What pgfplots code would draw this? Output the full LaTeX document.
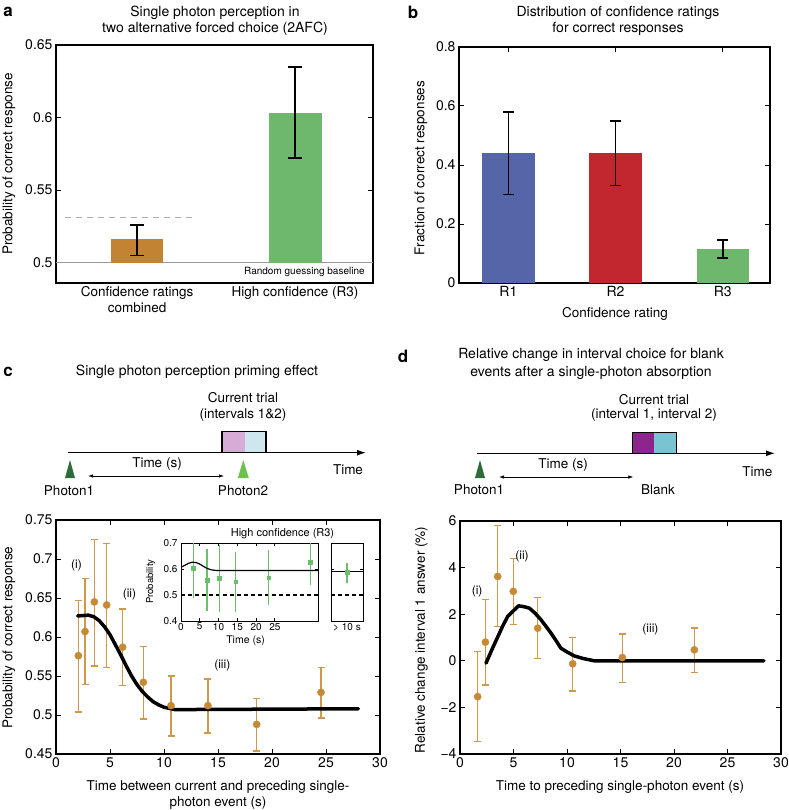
\documentclass[border=0pt]{standalone}
\usepackage{pgfplots}
\pgfplotsset{compat=1.18}
\usepackage{fontspec}
\setmainfont{TeX Gyre Heros}
\usetikzlibrary{arrows.meta}

\definecolor{barbrown}{RGB}{194,132,50}
\definecolor{bargreen}{RGB}{109,184,109}
\definecolor{barblue}{RGB}{85,102,168}
\definecolor{barred}{RGB}{193,39,45}
\definecolor{errbrown}{RGB}{208,152,74}
\definecolor{dotbrown}{RGB}{198,138,52}
\definecolor{insetgreen}{RGB}{108,190,108}
\definecolor{pinkint}{RGB}{214,172,214}
\definecolor{blueint}{RGB}{206,230,238}
\definecolor{purpint}{RGB}{140,38,140}
\definecolor{cyanint}{RGB}{122,196,210}
\definecolor{darktri}{RGB}{46,107,58}
\definecolor{lighttri}{RGB}{110,192,80}

\newcommand{\fs}[2]{\fontsize{#1}{#2}\selectfont}

\pgfplotsset{
  panel/.style={scale only axis, anchor=south west,
    axis line style={line width=1.2pt},
    tick align=inside, major tick length=5pt,
    tick style={black, line width=1pt},
    tick label style={font=\fs{14}{16}},
    /pgf/number format/assume math mode=true},
  inset/.style={scale only axis, anchor=south west,
    axis line style={line width=1pt},
    tick align=inside, major tick length=3pt,
    tick style={black, line width=0.7pt},
    tick label style={font=\fs{10}{12}},
    xticklabel style={yshift=1.5pt},
    /pgf/number format/assume math mode=true},
  ebar/.style={draw=none, no markers, error bars/.cd, y dir=both, y explicit,
    error bar style={line width=1.6pt, draw=black},
    error mark options={rotate=90, draw=black, line width=1.6pt, mark size=#1}},
  cbar/.style={error bars/.cd, y dir=both, y explicit,
    error bar style={line width=1.4pt, errbrown},
    error mark options={rotate=90, errbrown, line width=1.4pt, mark size=3.5pt}},
}

\begin{document}
\begin{tikzpicture}
\path[use as bounding box] (0pt,0pt) rectangle (788pt,-810pt);

% ---------------- panel a
\begin{axis}[panel, at={(56pt,-283pt)}, width=317pt, height=238pt,
  xmin=-0.513, xmax=1.494, ymin=0.486, ymax=0.65,
  ytick={0.5,0.55,0.6,0.65}, xtick={0,1},
  xticklabels={{Confidence ratings\\combined},{High confidence (R3)}},
  xticklabel style={align=center, font=\fs{13.5}{16}},
  x tick style={draw=none}]
\addplot[gray!80, line width=0.8pt] coordinates {(-0.513,0.5) (1.494,0.5)};
\addplot[fill=barbrown, draw=none] coordinates {(-0.165,0.5) (0.164,0.5) (0.164,0.516) (-0.165,0.516)} -- cycle;
\addplot[fill=bargreen, draw=none] coordinates {(0.835,0.5) (1.170,0.5) (1.170,0.603) (0.835,0.603)} -- cycle;
\addplot[gray!65, line width=1.3pt, dash pattern=on 6pt off 5pt] coordinates {(-0.456,0.531) (0.379,0.531)};
\addplot[ebar=7pt] coordinates {
  (0,0.516) += (0,0.010) -= (0,0.011)
  (1,0.603) += (0,0.032) -= (0,0.031)};
\node[font=\fs{10}{12}] at (axis cs:1.06,0.4935) {Random guessing baseline};
\end{axis}

% ---------------- panel b
\begin{axis}[panel, at={(459pt,-283pt)}, width=311pt, height=236pt,
  xmin=0.54, xmax=3.44, ymin=0, ymax=0.8,
  xtick={1,2,3}, xticklabels={R1,R2,R3},
  ytick={0,0.2,0.4,0.6,0.8}]
\addplot[ybar, bar width=0.49, bar shift=0pt, fill=barblue, draw=none] coordinates {(1,0.44)};
\addplot[ybar, bar width=0.49, bar shift=0pt, fill=barred, draw=none] coordinates {(2,0.44)};
\addplot[ybar, bar width=0.49, bar shift=0pt, fill=bargreen, draw=none] coordinates {(3,0.115)};
\addplot[ebar=5.5pt] coordinates {
  (1,0.44) += (0,0.14) -= (0,0.14)
  (2,0.44) += (0,0.11) -= (0,0.11)
  (3,0.115) += (0,0.03) -= (0,0.03)};
\end{axis}

% ---------------- panel c
\begin{axis}[panel, at={(56pt,-754pt)}, width=324pt, height=234pt,
  xmin=0, xmax=30, ymin=0.45, ymax=0.75,
  xtick={0,5,10,15,20,25,30}, ytick={0.45,0.5,0.55,0.6,0.65,0.7,0.75}]
\addplot[only marks, mark=*, mark size=3.6pt, color=dotbrown, cbar] coordinates {
  (2.07,0.576) += (0,0.071) -= (0,0.072)
  (2.69,0.607) += (0,0.068) -= (0,0.068)
  (3.55,0.645) += (0,0.080) -= (0,0.082)
  (4.69,0.641) += (0,0.079) -= (0,0.080)
  (6.17,0.587) += (0,0.049) -= (0,0.049)
  (8.09,0.542) += (0,0.046) -= (0,0.047)
  (10.65,0.512) += (0,0.038) -= (0,0.039)
  (14.07,0.512) += (0,0.034) -= (0,0.035)
  (18.58,0.488) += (0,0.033) -= (0,0.034)
  (24.54,0.529) += (0,0.032) -= (0,0.033)};
\addplot[black, line width=3.5pt, line join=round, line cap=round] coordinates {
  (2.0,0.627) (3.0,0.628) (3.5,0.626) (4.0,0.621) (4.5,0.613) (5.0,0.603)
  (5.5,0.590) (6.0,0.577) (6.5,0.563) (7.0,0.550) (7.5,0.539) (8.0,0.530)
  (8.5,0.523) (9.0,0.517) (9.5,0.513) (10.0,0.510) (11.0,0.507) (12.0,0.507)
  (28.0,0.508)};
\node[font=\fs{12}{14}] at (axis cs:1.9,0.692) {(i)};
\node[font=\fs{12}{14}] at (axis cs:6.8,0.655) {(ii)};
\node[font=\fs{12}{14}] at (axis cs:15.4,0.563) {(iii)};
\end{axis}

% inset 1
\begin{axis}[inset, at={(181pt,-621pt)}, width=137pt, height=78pt,
  xmin=0, xmax=36.5, ymin=0.4, ymax=0.7,
  xtick={0,5,10,15,20,25}, ytick={0.4,0.5,0.6,0.7}]
\addplot[black, line width=1.3pt, dash pattern=on 4pt off 3pt] coordinates {(0,0.5) (36.5,0.5)};
\addplot[only marks, mark=square*, mark size=1.8pt, color=insetgreen,
  error bars/.cd, y dir=both, y explicit,
  error bar style={line width=1.2pt, insetgreen}, error mark=none] coordinates {
  (3.3,0.603) += (0,0.11) -= (0,0.113)
  (6.9,0.558) += (0,0.119) -= (0,0.119)
  (10.2,0.564) += (0,0.128) -= (0,0.129)
  (14.6,0.551) += (0,0.114) -= (0,0.116)
  (23.4,0.567) += (0,0.105) -= (0,0.107)
  (34.4,0.626) += (0,0.09) -= (0,0.086)};
\addplot[black, line width=1.2pt, smooth] coordinates {
  (0,0.607) (1,0.614) (2,0.622) (3,0.626) (4,0.625) (5,0.619) (6,0.610)
  (7,0.602) (8,0.597) (9,0.595) (10,0.594) (12,0.594) (36.5,0.594)};
\end{axis}

% inset 2
\begin{axis}[inset, at={(331pt,-621pt)}, width=32pt, height=78pt,
  xmin=0, xmax=2, ymin=0.4, ymax=0.7,
  xtick={1}, xticklabels={> 10 s}, x tick style={draw=none},
  ytick={0.4,0.5,0.6,0.7}, yticklabels={}]
\addplot[black, line width=1.3pt, dash pattern=on 4pt off 3pt] coordinates {(0,0.5) (2,0.5)};
\addplot[only marks, mark=square*, mark size=1.8pt, color=insetgreen,
  error bars/.cd, y dir=both, y explicit,
  error bar style={line width=1.2pt, insetgreen}, error mark=none] coordinates {
  (1,0.588) += (0,0.037) -= (0,0.043)};
\addplot[black, line width=1.2pt] coordinates {(0,0.59) (2,0.59)};
\end{axis}

% ---------------- panel d
\begin{axis}[panel, at={(460pt,-754pt)}, width=321pt, height=233pt,
  xmin=0, xmax=30, ymin=-4, ymax=6,
  xtick={0,5,10,15,20,25,30}, ytick={-4,-2,0,2,4,6},
  yticklabels={−4,−2,0,2,4,6}]
\addplot[only marks, mark=*, mark size=3.6pt, color=dotbrown, cbar] coordinates {
  (1.65,-1.54) += (0,1.94) -= (0,1.93)
  (2.37,0.80) += (0,1.82) -= (0,1.84)
  (3.52,3.62) += (0,2.18) -= (0,2.15)
  (4.98,2.98) += (0,1.41) -= (0,1.41)
  (7.26,1.40) += (0,1.32) -= (0,1.29)
  (10.53,-0.13) += (0,1.14) -= (0,1.16)
  (15.17,0.14) += (0,1.01) -= (0,1.06)
  (21.9,0.47) += (0,0.94) -= (0,0.96)};
\addplot[black, line width=3.5pt, line join=round, line cap=round] coordinates {
  (2.43,-0.10) (3.0,0.50) (3.5,1.00) (4.0,1.50) (4.45,1.90) (5.0,2.15)
  (5.48,2.36) (6.0,2.32) (6.48,2.26) (7.0,2.05) (7.57,1.76) (8.0,1.50)
  (8.5,1.19) (9.0,0.85) (9.43,0.54) (10.0,0.38) (10.68,0.21) (11.5,0.10)
  (12.55,0) (28.4,0)};
\node[font=\fs{12}{14}] at (axis cs:1.6,2.97) {(i)};
\node[font=\fs{12}{14}] at (axis cs:5.8,4.48) {(ii)};
\node[font=\fs{12}{14}] at (axis cs:17.8,1.33) {(iii)};
\end{axis}

% ---------------- text and schematics
\node[font=\bfseries\fs{17}{18}] at (8pt,-12pt) {a};
\node[font=\bfseries\fs{17}{18}] at (413pt,-12pt) {b};
\node[font=\bfseries\fs{17}{18}] at (8pt,-372pt) {c};
\node[font=\bfseries\fs{17}{18}] at (403pt,-356pt) {d};

\node[font=\fs{14}{16}] at (215pt,-13pt) {Single photon perception in};
\node[font=\fs{14}{16}] at (215pt,-29pt) {two alternative forced choice (2AFC)};
\node[font=\fs{13.5}{16}, rotate=90] at (9pt,-164pt) {Probability of correct response};

\node[font=\fs{14}{16}] at (618pt,-13pt) {Distribution of confidence ratings};
\node[font=\fs{14}{16}] at (618pt,-29pt) {for correct responses};
\node[font=\fs{13.5}{16}, rotate=90] at (421pt,-168pt) {Fraction of correct responses};
\node[font=\fs{13.5}{16}] at (615pt,-314pt) {Confidence rating};

\node[font=\fs{14}{16}] at (197pt,-372pt) {Single photon perception priming effect};
\node[font=\fs{13.5}{16}] at (243pt,-398pt) {Current trial};
\node[font=\fs{13.5}{16}] at (243pt,-415pt) {(intervals 1\&2)};
\fill[pinkint] (222pt,-431.7pt) rectangle (244.7pt,-452.7pt);
\fill[blueint] (244.7pt,-431.7pt) rectangle (266pt,-452.7pt);
\draw[line width=1.2pt] (222pt,-431.7pt) rectangle (266pt,-452.7pt);
\draw[line width=1.3pt, -{Latex[length=9pt,width=6pt]}] (68pt,-452.7pt) -- (366pt,-452.7pt);
\fill[darktri] (65pt,-478pt) -- (75pt,-478pt) -- (70pt,-460pt) -- cycle;
\fill[lighttri] (237.8pt,-478pt) -- (248.8pt,-478pt) -- (243.3pt,-460pt) -- cycle;
\node[font=\fs{13.5}{16}] at (157pt,-464pt) {Time (s)};
\draw[line width=0.7pt, {Latex[length=5pt,width=3.5pt]}-{Latex[length=5pt,width=3.5pt]}] (88pt,-476pt) -- (224pt,-476pt);
\node[font=\fs{13.5}{16}] at (348pt,-470pt) {Time};
\node[font=\fs{13.5}{16}] at (69pt,-491pt) {Photon1};
\node[font=\fs{13.5}{16}] at (243pt,-491pt) {Photon2};
\node[font=\fs{11}{13}] at (282.5pt,-533.3pt) {High confidence (R3)};
\node[font=\fs{9.5}{11}, rotate=90] at (150.7pt,-581.7pt) {Probability};
\node[font=\fs{10.5}{12}] at (245.5pt,-641pt) {Time (s)};
\node[font=\fs{13.5}{16}, rotate=90] at (9pt,-637.5pt) {Probability of correct response};
\node[font=\fs{13.5}{16}] at (218pt,-786.7pt) {Time between current and preceding single-};
\node[font=\fs{13.5}{16}] at (218pt,-803pt) {photon event (s)};

\node[font=\fs{14}{16}] at (591pt,-355pt) {Relative change in interval choice for blank};
\node[font=\fs{14}{16}] at (591pt,-373pt) {events after a single-photon absorption};
\node[font=\fs{13.5}{16}] at (654pt,-400pt) {Current trial};
\node[font=\fs{13.5}{16}] at (654pt,-415pt) {(interval 1, interval 2)};
\fill[purpint] (632.3pt,-432.3pt) rectangle (654.3pt,-453.3pt);
\fill[cyanint] (654.3pt,-432.3pt) rectangle (676.3pt,-453.3pt);
\draw[line width=1.2pt] (632.3pt,-432.3pt) rectangle (676.3pt,-453.3pt);
\draw[line width=1.3pt, -{Latex[length=9pt,width=6pt]}] (477.3pt,-453.3pt) -- (775pt,-453.3pt);
\fill[darktri] (475pt,-478pt) -- (485pt,-478pt) -- (480pt,-460pt) -- cycle;
\node[font=\fs{13.5}{16}] at (563pt,-464.7pt) {Time (s)};
\draw[line width=0.7pt, {Latex[length=5pt,width=3.5pt]}-{Latex[length=5pt,width=3.5pt]}] (499pt,-477pt) -- (633.3pt,-477pt);
\node[font=\fs{13.5}{16}] at (757.3pt,-471.7pt) {Time};
\node[font=\fs{13.5}{16}] at (479pt,-490pt) {Photon1};
\node[font=\fs{13.5}{16}] at (658pt,-490pt) {Blank};
\node[font=\fs{13.5}{16}, rotate=90] at (421.5pt,-640pt) {Relative change interval 1 answer (\%)};
\node[font=\fs{13.5}{16}] at (620pt,-786.7pt) {Time to preceding single-photon event (s)};
\end{tikzpicture}
\end{document}
